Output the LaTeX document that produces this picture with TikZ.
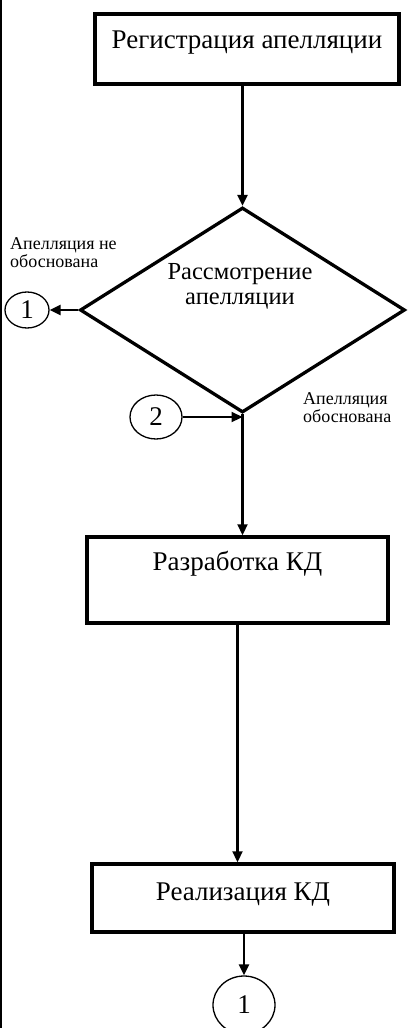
\documentclass[tikz,border=0pt]{standalone}
\usepackage{fontspec}
\setmainfont{Liberation Serif}
\usetikzlibrary{shapes.geometric,arrows.meta,calc}
\begin{document}
\begin{tikzpicture}[x=1pt,y=1pt,
  procbox/.style={draw,line width=3.5pt,rectangle,inner sep=0pt,font=\fontsize{27}{30}\selectfont},
  decision/.style={draw,line width=3.3pt,diamond,inner sep=0pt,minimum width=325pt,minimum height=205pt},
  conn/.style={draw,line width=1.3pt,ellipse,inner sep=0pt,font=\fontsize{27}{30}\selectfont},
  flow/.style={line width=2.2pt,-{Triangle[length=11pt,width=10pt]}},
  note/.style={align=left,inner sep=0pt,font=\fontsize{18}{18}\selectfont},
  maintext/.style={align=center,inner sep=0pt,font=\fontsize{24.5}{25}\selectfont}]
\useasboundingbox (0,0) rectangle (407,-1028);
\draw[line width=2pt] (1,0) -- (1,-1028);
% boxes
\node[procbox,minimum width=304pt,text height=34pt,text depth=36pt] (b1) at (247,-49) {Регистрация апелляции};
\node[decision] (d) at (242.5,-310) {};
\node[maintext,anchor=base] (dtext) at (240,-304) {Рассмотрение\\апелляции};
\node[procbox,minimum width=301pt,text height=33pt,text depth=53pt] (b2) at (237.5,-580) {Разработка КД};
\node[procbox,minimum width=302pt,text height=36pt,text depth=32pt] (b3) at (243,-898) {Реализация КД};
% connectors
\node[conn,minimum width=44pt,minimum height=36pt] (c1) at (27,-310) {1};
\node[conn,minimum width=52pt,minimum height=44pt] (c2) at (156,-417) {2};
\node[conn,minimum width=62pt,minimum height=58pt] (c3) at (244,-1005) {1};
% labels
\node[note,anchor=base west] (l1) at (10,-267) {Апелляция не\\обоснована};
\node[note,anchor=base west] (l2) at (303,-422) {Апелляция\\обоснована};
% arrows
\coordinate (j) at (d.south |- c2.east);
\draw[flow] (d.north |- b1.south) -- (d.north);
\draw[flow] (d.west) -- (c1.east);
\draw[flow] (c2.east) -- (j);
\draw[flow] (d.south) -- (d.south |- b2.north);
\draw[flow] (b2.south) -- (b2.south |- b3.north);
\draw[flow] (c3.north |- b3.south) -- (c3.north);
\end{tikzpicture}
\end{document}
